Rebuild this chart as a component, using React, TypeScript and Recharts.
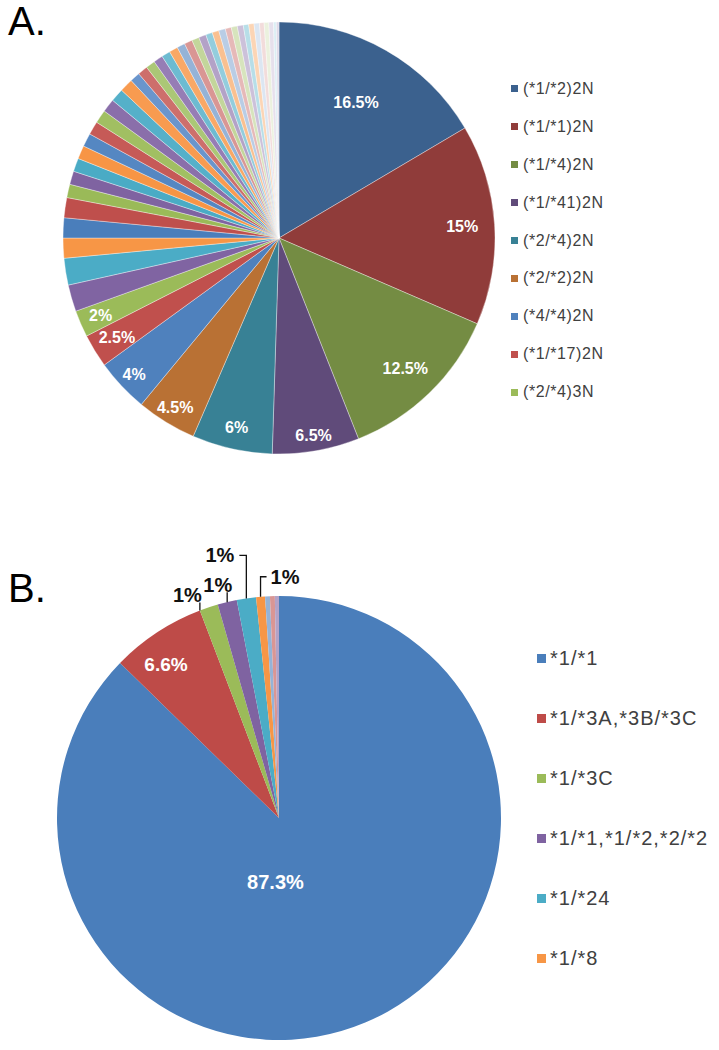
import React from 'react';
import { PieChart, Pie, Cell, Legend } from 'recharts';

// ---------- Chart A data ----------
const GENOTYPES_A = [
  '(*1/*2)2N', '(*1/*1)2N', '(*1/*4)2N', '(*1/*41)2N', '(*2/*4)2N',
  '(*2/*2)2N', '(*4/*4)2N', '(*1/*17)2N', '(*2/*4)3N',
];
const VALUES_A = [
  16.5, 15, 12.5, 6.5, 6, 4.5, 4, 2.5, 2,
  2, 2, 1.5, 1.5, 1.5,
  1, 1, 1, 1, 1, 1, 1, 1, 1, 1,
  0.75, 0.75, 0.7, 0.7, 0.65, 0.65, 0.6, 0.6, 0.55, 0.55, 0.5, 0.5,
  0.5, 0.45, 0.45, 0.45, 0.4, 0.4, 0.4, 0.35, 0.35, 0.35, 0.2, 0.2,
];
const LABELS_A = ['16.5%', '15%', '12.5%', '6.5%', '6%', '4.5%', '4%', '2.5%', '2%'];
const COLORS_A = [
  '#3B618E', '#903C3A', '#748C43', '#604B7A', '#388195', '#B97134',
  '#4F81BD', '#C0504D', '#9BBB59', '#8064A2', '#4BACC6', '#F79646',
  '#4A7EBB', '#BF4F4C', '#9ABA58', '#7F63A1', '#4AABC5', '#F79545',
  '#5587C2', '#C65A57', '#A1BF62', '#8A6FAA', '#55B0C9', '#F89B50',
  '#6A95CC', '#CD6F6C', '#ABC776', '#967DB5', '#6DBBD1', '#F9A866',
  '#95B3D7', '#D99694', '#C3D69B', '#B3A2C7', '#93CDDD', '#FAC090',
  '#B9CDE5', '#E6B9B8', '#D7E4BD', '#CCC1DA', '#B7DEE8', '#FCD5B5',
  '#DCE6F2', '#F2DCDB', '#EBF1DE', '#E6E0EC', '#DBEEF4', '#DDD9E8',
];

// ---------- Chart B data ----------
const GENOTYPES_B = ['*1/*1', '*1/*3A,*3B/*3C', '*1/*3C', '*1/*1,*1/*2,*2/*2', '*1/*24', '*1/*8'];
const VALUES_B = [87.3, 6.9, 1.35, 1.4, 1.4, 0.65, 0.35, 0.35, 0.3];
const LABELS_B = ['87.3%', '6.6%', '1%', '1%', '1%', '1%'];
const COLORS_B = ['#4A7EBB', '#BE4B48', '#9BBB59', '#7F63A1', '#4BACC6', '#F79646', '#95B3D7', '#D99694', '#B3A2C7'];

const dataA = VALUES_A.map((v, i) => ({ name: GENOTYPES_A[i] ?? `A${i + 1}`, value: v }));
const dataB = VALUES_B.map((v, i) => ({ name: GENOTYPES_B[i] ?? `B${i + 1}`, value: v }));

const FONT = "Arial, 'Liberation Sans', Helvetica, sans-serif";
const RAD = Math.PI / 180;

// label radial placement (fraction of radius), styling only
const LABEL_R_A = [0.72, 0.85, 0.84, 0.93, 0.9, 0.92, 0.92, 0.88, 0.9];

const renderLabelA = (props: any) => {
  const { cx, cy, midAngle, outerRadius, index } = props;
  if (index >= LABELS_A.length) return <g />;
  const r = outerRadius * LABEL_R_A[index];
  const x = cx + r * Math.cos(-midAngle * RAD);
  const y = cy + r * Math.sin(-midAngle * RAD);
  return (
    <text x={x} y={y} fill="#fff" textAnchor="middle" dominantBaseline="central"
      fontSize={16} fontWeight="bold" fontFamily={FONT}>
      {LABELS_A[index]}
    </text>
  );
};

// inside-label placement for B (radius fraction, angle shift), leader style for outside labels
const INSIDE_B: Record<number, { r: number; da: number; size: number }> = {
  0: { r: 0.29, da: -26, size: 20 },
  1: { r: 0.86, da: 3, size: 19 },
};
// f: position along the slice arc where the leader starts (0 = slice start, 0.5 = middle)
const LEADER_B: Record<number, { f: number; up: number; h: number; tx: number; ty: number; anchor: string }> = {
  2: { f: 0, up: 8, h: 0, tx: 2, ty: -1, anchor: 'end' },
  3: { f: 0.5, up: 10, h: 0, tx: 5, ty: 0, anchor: 'end' },
  4: { f: 0.5, up: 43, h: -7, tx: -5, ty: 7, anchor: 'end' },
  5: { f: 0.5, up: 20, h: 6, tx: 4, ty: 7, anchor: 'start' },
};

const renderLabelB = (props: any) => {
  const { cx, cy, midAngle, startAngle, endAngle, outerRadius, index } = props;
  if (index >= LABELS_B.length) return <g />;
  const ins = INSIDE_B[index];
  if (ins) {
    const a = (midAngle + ins.da) * RAD;
    const r = outerRadius * ins.r;
    return (
      <text x={cx + r * Math.cos(-a)} y={cy + r * Math.sin(-a)} fill="#fff" textAnchor="middle"
        dominantBaseline="central" fontSize={ins.size} fontWeight="bold" fontFamily={FONT}>
        {LABELS_B[index]}
      </text>
    );
  }
  const ld = LEADER_B[index];
  const ang = (startAngle + ld.f * (endAngle - startAngle)) * RAD;
  const ex = cx + outerRadius * Math.cos(-ang);
  const ey = cy + outerRadius * Math.sin(-ang);
  const ey2 = ey - ld.up;
  const ex2 = ex + ld.h;
  return (
    <g>
      <polyline points={`${ex},${ey} ${ex},${ey2} ${ex2},${ey2}`} fill="none" stroke="#111" strokeWidth={1.3} />
      <text x={ex2 + ld.tx} y={ey2 + ld.ty} fill="#111" textAnchor={ld.anchor as any}
        fontSize={20} fontWeight="bold" fontFamily={FONT}>
        {LABELS_B[index]}
      </text>
    </g>
  );
};

const legendA = () => (
  <div style={{ fontFamily: FONT, fontSize: 16, letterSpacing: '0.6px', color: '#404040' }}>
    {GENOTYPES_A.map((n, i) => (
      <div key={n} style={{ height: 37.9, display: 'flex', alignItems: 'center', whiteSpace: 'nowrap' }}>
        <span style={{ display: 'inline-block', width: 7, height: 7, background: COLORS_A[i], marginRight: 5 }} />
        <span>{n}</span>
      </div>
    ))}
  </div>
);

const legendB = () => (
  <div style={{ fontFamily: FONT, fontSize: 20, letterSpacing: '1px', color: '#404040' }}>
    {GENOTYPES_B.map((n, i) => (
      <div key={n} style={{ height: 60, display: 'flex', alignItems: 'center', whiteSpace: 'nowrap' }}>
        <span style={{ display: 'inline-block', width: 9, height: 9, background: COLORS_B[i], marginRight: 4 }} />
        <span>{n}</span>
      </div>
    ))}
  </div>
);

export default function App() {
  return (
    <div style={{ position: 'absolute', left: 0, top: 0, width: 719, height: 1050, background: '#fff', overflow: 'hidden' }}>
      <div style={{ position: 'absolute', left: 0, top: 0 }}>
        <PieChart width={719} height={520} margin={{ top: 0, right: 0, bottom: 0, left: 0 }}>
          <Pie data={dataA} dataKey="value" nameKey="name" cx={279} cy={238} outerRadius={216}
            startAngle={90} endAngle={-270} isAnimationActive={false} labelLine={false}
            label={renderLabelA} stroke="rgba(255,255,255,0.45)" strokeWidth={0.8}>
            {dataA.map((d, i) => <Cell key={i} fill={COLORS_A[i]} />)}
          </Pie>
          <Legend content={legendA} wrapperStyle={{ position: 'absolute', left: 511, top: 70, width: 200 }} />
        </PieChart>
      </div>
      <div style={{ position: 'absolute', left: 0, top: 520 }}>
        <PieChart width={719} height={530} margin={{ top: 0, right: 0, bottom: 0, left: 0 }}>
          <Pie data={dataB} dataKey="value" nameKey="name" cx={279} cy={298} outerRadius={222}
            startAngle={90} endAngle={-270} isAnimationActive={false} labelLine={false}
            label={renderLabelB} stroke="none">
            {dataB.map((d, i) => <Cell key={i} fill={COLORS_B[i]} />)}
          </Pie>
          <Legend content={legendB} wrapperStyle={{ position: 'absolute', left: 537, top: 108, width: 182 }} />
        </PieChart>
      </div>
      <div style={{ position: 'absolute', left: 8, top: 1, fontFamily: FONT, fontSize: 40, lineHeight: '40px', color: '#000' }}>A.</div>
      <div style={{ position: 'absolute', left: 8, top: 568, fontFamily: FONT, fontSize: 40, lineHeight: '40px', color: '#000' }}>B.</div>
    </div>
  );
}
